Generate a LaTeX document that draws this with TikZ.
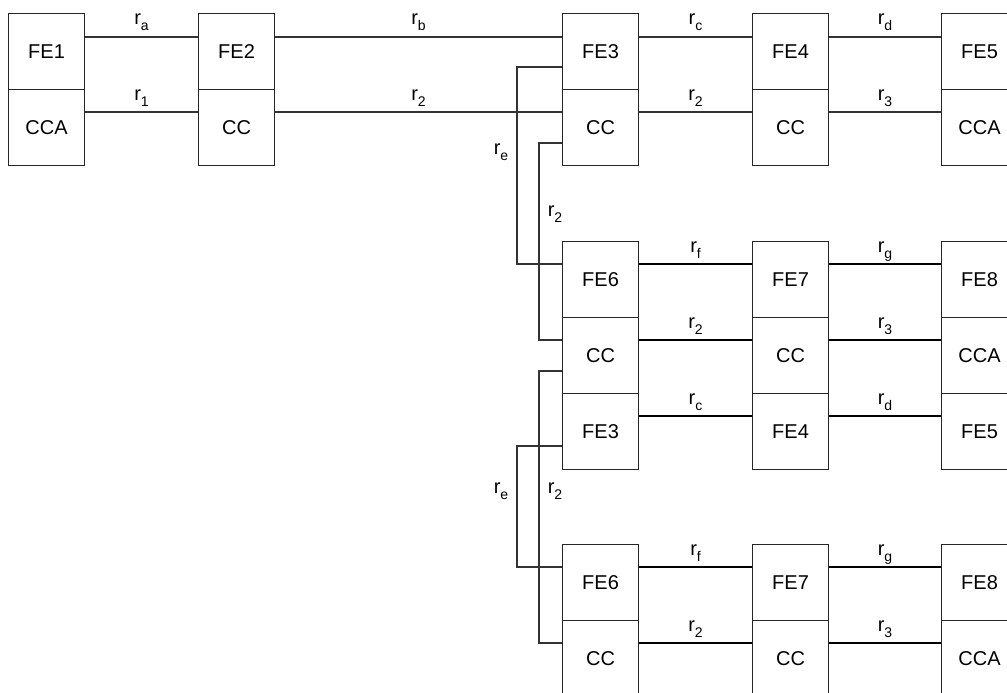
\documentclass[tikz,border=0pt]{standalone}
\usepackage{fontspec}
\setmainfont{Liberation Sans}
\newcommand\rsub[1]{r\raisebox{-6pt}{\fontsize{14}{14}\selectfont #1}}
\begin{document}
\begin{tikzpicture}[x=1pt,y=-1pt,
  cell/.style={draw=black!85, line width=1.1pt, minimum width=76pt, minimum height=76pt,
    inner sep=0pt, anchor=north west, font=\fontsize{20}{20}\selectfont},
  link/.style={draw=black!80, line width=1.1pt},
  tlink/.style={draw=black, line width=2pt},
  lab/.style={font=\fontsize{20}{20}\selectfont, inner sep=0pt, anchor=base, yshift=12pt}]
\useasboundingbox (0,0) rectangle (1007,693);
% top group
\node[cell] (fe1) at (8,13) {FE1};
\node[cell] (cca1) at (8,89) {CCA};
\node[cell] (fe2) at (198,13) {FE2};
\node[cell] (cc2) at (198,89) {CC};
\node[cell] (fe3) at (562,13) {FE3};
\node[cell] (cc3) at (562,89) {CC};
\node[cell] (fe4) at (752,13) {FE4};
\node[cell] (cc4) at (752,89) {CC};
\node[cell] (fe5) at (941,13) {FE5};
\node[cell] (cca5) at (941,89) {CCA};
% group 2
\node[cell] (fe6a) at (562,241) {FE6};
\node[cell] (cc6a) at (562,317) {CC};
\node[cell] (fe3b) at (562,393) {FE3};
\node[cell] (fe7a) at (752,241) {FE7};
\node[cell] (cc7a) at (752,317) {CC};
\node[cell] (fe4b) at (752,393) {FE4};
\node[cell] (fe8a) at (941,241) {FE8};
\node[cell] (cca8a) at (941,317) {CCA};
\node[cell] (fe5b) at (941,393) {FE5};
% group 3
\node[cell] (fe6c) at (562,544) {FE6};
\node[cell] (cc6c) at (562,620) {CC};
\node[cell] (fe7c) at (752,544) {FE7};
\node[cell] (cc7c) at (752,620) {CC};
\node[cell] (fe8c) at (941,544) {FE8};
\node[cell] (cca8c) at (941,620) {CCA};
% top links
\draw[link] ([yshift=-24pt]fe1.north east) -- node[lab]{\rsub{a}} ([yshift=-24pt]fe2.north west);
\draw[link] ([yshift=-23pt]cca1.north east) -- node[lab]{\rsub{1}} ([yshift=-23pt]cc2.north west);
\draw[link] ([yshift=-24pt]fe2.north east) -- node[lab]{\rsub{b}} ([yshift=-24pt]fe3.north west);
\draw[link] ([yshift=-23pt]cc2.north east) -- node[lab]{\rsub{2}} ([yshift=-23pt]cc3.north west);
\draw[link] ([yshift=-24pt]fe3.north east) -- node[lab]{\rsub{c}} ([yshift=-24pt]fe4.north west);
\draw[link] ([yshift=-23pt]cc3.north east) -- node[lab]{\rsub{2}} ([yshift=-23pt]cc4.north west);
\draw[link] ([yshift=-24pt]fe4.north east) -- node[lab]{\rsub{d}} ([yshift=-24pt]fe5.north west);
\draw[link] ([yshift=-23pt]cc4.north east) -- node[lab]{\rsub{3}} ([yshift=-23pt]cca5.north west);
% group 2 links
\draw[tlink] ([yshift=-23pt]fe6a.north east) -- node[lab]{\rsub{f}} ([yshift=-23pt]fe7a.north west);
\draw[tlink] ([yshift=-23pt]cc6a.north east) -- node[lab]{\rsub{2}} ([yshift=-23pt]cc7a.north west);
\draw[tlink] ([yshift=-23pt]fe3b.north east) -- node[lab]{\rsub{c}} ([yshift=-23pt]fe4b.north west);
\draw[tlink] ([yshift=-23pt]fe7a.north east) -- node[lab]{\rsub{g}} ([yshift=-23pt]fe8a.north west);
\draw[tlink] ([yshift=-23pt]cc7a.north east) -- node[lab]{\rsub{3}} ([yshift=-23pt]cca8a.north west);
\draw[tlink] ([yshift=-23pt]fe4b.north east) -- node[lab]{\rsub{d}} ([yshift=-23pt]fe5b.north west);
% group 3 links
\draw[tlink] ([yshift=-23pt]fe6c.north east) -- node[lab]{\rsub{f}} ([yshift=-23pt]fe7c.north west);
\draw[tlink] ([yshift=-23pt]cc6c.north east) -- node[lab]{\rsub{2}} ([yshift=-23pt]cc7c.north west);
\draw[tlink] ([yshift=-23pt]fe7c.north east) -- node[lab]{\rsub{g}} ([yshift=-23pt]fe8c.north west);
\draw[tlink] ([yshift=-23pt]cc7c.north east) -- node[lab]{\rsub{3}} ([yshift=-23pt]cca8c.north west);
% vertical branches
\draw[link] ([yshift=-54pt]fe3.north west) -- ++(-45,0) |- ([yshift=-23pt]fe6a.north west);
\draw[link] ([yshift=-54pt]cc3.north west) -- ++(-23,0) |- ([yshift=-23pt]cc6a.north west);
\draw[link] ([yshift=-54pt]cc6a.north west) -- ++(-23,0) |- ([yshift=-23pt]cc6c.north west);
\draw[link] ([yshift=-53pt]fe3b.north west) -- ++(-45,0) |- ([yshift=-23pt]fe6c.north west);
% vertical labels
\node[lab, yshift=0pt] (le1) at (501,166) {\rsub{e}};
\node[lab, yshift=0pt] (l21) at (555,228) {\rsub{2}};
\node[lab, yshift=0pt] (le2) at (501,505) {\rsub{e}};
\node[lab, yshift=0pt] (l22) at (555,505) {\rsub{2}};
\end{tikzpicture}
\end{document}
